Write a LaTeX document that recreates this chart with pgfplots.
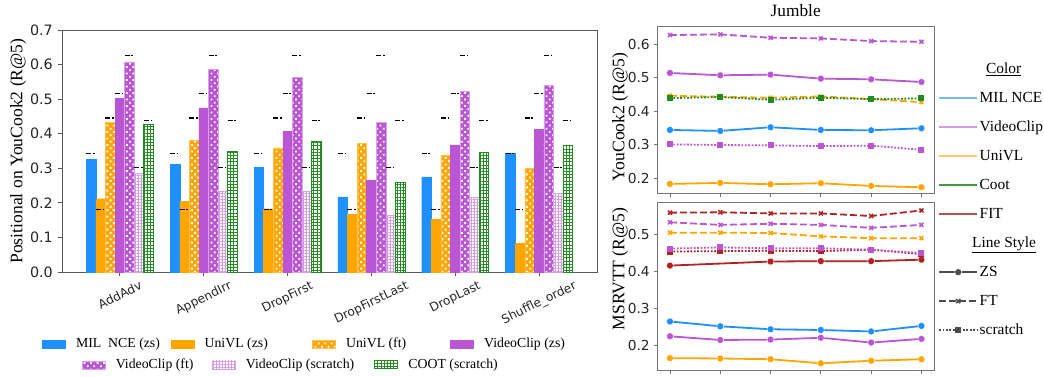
\documentclass[border=0pt]{standalone}
\usepackage{fontspec}
\setmainfont{Liberation Serif}
\newfontfamily\dejavu{DejaVu Sans}
\usepackage{graphicx}
\usepackage{pgfplots}
\pgfplotsset{compat=1.18}
\usepackage{pgfplotstable}
\usetikzlibrary{patterns.meta}

\definecolor{cblue}{RGB}{30,144,255}
\definecolor{corange}{RGB}{255,165,0}
\definecolor{cpurple}{RGB}{186,85,211}
\definecolor{cgreen}{RGB}{34,139,34}
\definecolor{cred}{RGB}{178,34,34}

\pgfdeclareplotmark{refdash}{%
  \pgfsetdash{{5pt}{1.7pt}{1.6pt}{2pt}}{0pt}%
  \pgfpathmoveto{\pgfqpoint{-4.79pt}{0pt}}%
  \pgfpathlineto{\pgfqpoint{4.79pt}{0pt}}%
  \pgfusepathqstroke}

% bars: Positional on YouCook2 (R@5)
\pgfplotstableread{
x mil unizs uft vczs vcft vcsc coot
0 0.326 0.212 0.433 0.502 0.608 0.285 0.427
1 0.311 0.205 0.380 0.475 0.586 0.234 0.350
2 0.302 0.183 0.359 0.406 0.564 0.234 0.378
3 0.217 0.166 0.372 0.265 0.432 0.164 0.260
4 0.275 0.153 0.337 0.368 0.523 0.216 0.345
5 0.344 0.083 0.301 0.412 0.540 0.228 0.367
}\bars
% reference (unperturbed) values
\pgfplotstableread{
x mil unizs uft vczs vcft vcsc coot
0 0.343 0.181 0.445 0.517 0.627 0.302 0.439
1 0.343 0.181 0.445 0.517 0.627 0.302 0.439
2 0.343 0.181 0.445 0.517 0.627 0.302 0.439
3 0.343 0.181 0.445 0.517 0.627 0.302 0.439
4 0.343 0.181 0.445 0.517 0.627 0.302 0.439
5 0.343 0.181 0.445 0.517 0.627 0.302 0.439
}\refs
% Jumble YouCook2
\pgfplotstableread{
x mil vczs vcft vcsc unizs uft coot
0 0.344 0.514 0.627 0.301 0.183 0.446 0.439
1 0.341 0.507 0.629 0.299 0.186 0.443 0.442
2 0.352 0.509 0.619 0.298 0.182 0.440 0.434
3 0.344 0.497 0.617 0.296 0.185 0.444 0.440
4 0.343 0.495 0.609 0.297 0.177 0.436 0.436
5 0.349 0.487 0.607 0.285 0.173 0.427 0.438
}\yc
% Jumble MSRVTT
\pgfplotstableread{
x fitft vcft uft vcsc fitsc fitzs mil vczs unizs
0 0.559 0.533 0.505 0.462 0.454 0.416 0.265 0.225 0.166
1 0.560 0.526 0.505 0.465 0.455 nan 0.252 0.215 0.165
2 0.557 0.529 0.504 0.463 0.456 0.427 0.244 0.216 0.163
3 0.557 0.526 0.495 0.463 0.455 0.428 0.242 0.221 0.152
4 0.550 0.518 0.490 0.459 0.459 0.428 0.238 0.208 0.159
5 0.565 0.526 0.490 0.450 0.447 0.432 0.253 0.218 0.163
}\ms

\pgfplotsset{
  barlegend/.style={legend image code/.code={\draw[##1,/tikz/.cd] (0pt,-4pt) rectangle (23pt,4pt); \path (33.7pt,0pt);}},
  bmil/.style={fill=cblue, draw=cblue},
  bunizs/.style={fill=corange, draw=corange},
  buft/.style={fill=corange, draw=corange!70, postaction={pattern={Dots[radius=1.3pt,distance=4.6pt,angle=45]}, pattern color=white}},
  bvczs/.style={fill=cpurple, draw=cpurple},
  bvcft/.style={fill=cpurple, draw=cpurple!55, postaction={pattern={Dots[radius=1.3pt,distance=4.6pt,angle=45]}, pattern color=white}},
  bvcsc/.style={fill=white, draw=cpurple!55, postaction={pattern={Hatch[distance=3pt,line width=0.5pt]}, pattern color=cpurple!60}},
  bcoot/.style={fill=white, draw=cgreen, line width=0.9pt, postaction={pattern={Hatch[distance=3.2pt,line width=0.6pt]}, pattern color=cgreen}},
  refmark/.style={only marks, mark=refdash, forget plot, black, mark options={black, line width=1.4pt}},
  zs/.style={solid, line width=1.8pt, mark=*, mark size=3.5pt, mark options={solid, draw=white, line width=0.4pt}},
  ft/.style={dash pattern=on 7pt off 3pt, line width=1.8pt, mark=x, mark size=2.8pt, mark options={solid, line width=1.6pt}},
  sc/.style={dash pattern=on 1.8pt off 1.6pt, line width=1.8pt, mark=square*, mark size=2.1pt, mark options={solid}},
  rightax/.style={
    scale only axis, width=276.6pt,
    xmin=-0.25, xmax=5.25, xtick={0,1,2,3,4,5}, xticklabels={},
    tick align=outside, major tick length=3.5pt, xtick pos=bottom, ytick pos=left,
    axis line style={black!55, line width=0.8pt}, tick style={black!55, line width=0.8pt},
    tick label style={font=\dejavu\fontsize{13.8}{16}\selectfont, black!85},
    /pgf/number format/assume math mode=true,
    yticklabel style={/pgf/number format/fixed, /pgf/number format/fixed zerofill, /pgf/number format/precision=1, inner sep=0pt, anchor=east, xshift=-4pt},
    ylabel style={font=\fontsize{17.6}{20}\selectfont, anchor=center},
  },
}

\begin{document}
\begin{tikzpicture}
\path[use as bounding box] (0pt,0pt) rectangle (1044pt,376pt);

% ---------------- left bar chart ----------------
\begin{axis}[
  at={(62pt,104pt)}, anchor=south west, scale only axis, width=535pt, height=242pt,
  xmin=-0.69, xmax=5.69, ymin=0, ymax=0.7,
  xtick={0,1,2,3,4,5},
  xticklabels={\rotatebox{26}{AddAdv},\rotatebox{26}{AppendIrr},\rotatebox{26}{DropFirst},\rotatebox{26}{DropFirstLast},\rotatebox{26}{DropLast},\rotatebox{26}{Shuffle\_order}},
  ytick={0,0.1,0.2,0.3,0.4,0.5,0.6,0.7},
  tick align=outside, major tick length=4pt, xtick pos=bottom, ytick pos=left,
  axis line style={black!65, line width=0.8pt}, tick style={black!65, line width=0.8pt},
  tick label style={font=\dejavu\fontsize{14.3}{16}\selectfont, black!85},
  /pgf/number format/assume math mode=true,
  yticklabel style={/pgf/number format/fixed, /pgf/number format/fixed zerofill, /pgf/number format/precision=1, inner sep=0pt, anchor=east, xshift=-5pt},
  xticklabel style={inner sep=0pt, anchor=north, yshift=-4pt, font=\dejavu\fontsize{12.2}{14}\selectfont},
  ylabel={Positional on YouCook2 (R@5)},
  ylabel style={at={(axis description cs:-0.0822,0.5)}, anchor=center, font=\fontsize{17.6}{20}\selectfont},
  legend style={at={(axis description cs:-0.0379,-0.2975)}, anchor=west, draw=none, fill=none,
     inner sep=0pt, column sep=0pt, font=\fontsize{13.8}{16}\selectfont,
     nodes={inner xsep=0pt, inner ysep=0pt, text height=9.5pt, text depth=3pt}},
  legend columns=4, legend cell align=left,
]
\addplot[ybar, bar width=0.114286, bar shift=-0.342857, bmil, barlegend] table[x=x,y=mil] {\bars};
\addlegendentry{\makebox[94.5pt][l]{MIL~~NCE (zs)}}
\addplot[ybar, bar width=0.114286, bar shift=-0.228571, bunizs, barlegend] table[x=x,y=unizs] {\bars};
\addlegendentry{\makebox[107.4pt][l]{UniVL (zs)}}
\addplot[ybar, bar width=0.114286, bar shift=-0.114286, buft, barlegend] table[x=x,y=uft] {\bars};
\addlegendentry{\makebox[104pt][l]{UniVL (ft)}}
\addplot[ybar, bar width=0.114286, bar shift=0, bvczs, barlegend] table[x=x,y=vczs] {\bars};
\addlegendentry{VideoClip (zs)}
\addplot[ybar, bar width=0.114286, bar shift=0.114286, bvcft, forget plot] table[x=x,y=vcft] {\bars};
\addplot[ybar, bar width=0.114286, bar shift=0.228571, bvcsc, forget plot] table[x=x,y=vcsc] {\bars};
\addplot[ybar, bar width=0.114286, bar shift=0.342857, bcoot, forget plot] table[x=x,y=coot] {\bars};
% reference dashes
\addplot[refmark] table[x expr=\thisrow{x}-0.342857, y=mil] {\refs};
\addplot[refmark] table[x expr=\thisrow{x}-0.228571, y=unizs] {\refs};
\addplot[refmark] table[x expr=\thisrow{x}-0.114286, y=uft] {\refs};
\addplot[refmark] table[x expr=\thisrow{x}, y=vczs] {\refs};
\addplot[refmark] table[x expr=\thisrow{x}+0.114286, y=vcft] {\refs};
\addplot[refmark] table[x expr=\thisrow{x}+0.228571, y=vcsc] {\refs};
\addplot[refmark] table[x expr=\thisrow{x}+0.342857, y=coot] {\refs};
\end{axis}

% second legend row
\begin{axis}[
  at={(62pt,104pt)}, anchor=south west, scale only axis, width=535pt, height=242pt,
  hide axis, xmin=0, xmax=1, ymin=0, ymax=1,
  legend style={at={(axis description cs:0.0364,-0.384)}, anchor=west, draw=none, fill=none,
     inner sep=0pt, column sep=0pt, font=\fontsize{13.8}{16}\selectfont,
     nodes={inner xsep=0pt, inner ysep=0pt, text height=9.5pt, text depth=3pt}},
  legend columns=3, legend cell align=left, barlegend,
]
\addplot[draw=none, forget plot] coordinates {(0.5,0.5)};
\addlegendimage{bvcft, barlegend}
\addlegendentry{\makebox[96pt][l]{VideoClip (ft)}}
\addlegendimage{bvcsc, barlegend}
\addlegendentry{\makebox[128pt][l]{VideoClip (scratch)}}
\addlegendimage{bcoot, barlegend}
\addlegendentry{COOT (scratch)}
\end{axis}

% ---------------- right top: YouCook2 ----------------
\begin{axis}[
  rightax, at={(657.4pt,182.7pt)}, anchor=south west, height=167.3pt,
  ymin=0.155, ymax=0.654, ytick={0.2,0.3,0.4,0.5,0.6},
  ylabel={YouCook2 (R@5)},
  ylabel style={at={(axis description cs:-0.135,0.456)}},
  title={Jumble},
  title style={at={(axis description cs:0.5,1)}, anchor=base, yshift=4pt, font=\fontsize{17.3}{20}\selectfont},
  legend image code/.code={\draw[mark repeat=2,mark phase=2,#1] plot coordinates {(0pt,0pt) (19pt,0pt) (38pt,0pt)};},
  legend style={at={(axis description cs:1.0145,0.785)}, anchor=north west, draw=none, fill=none,
     inner sep=0pt, row sep=15pt, font=\fontsize{15.4}{17}\selectfont,
     nodes={inner xsep=1.5pt, inner ysep=0pt, text height=11pt, text depth=3pt}},
  legend cell align=left,
]
\addplot[cpurple, sc, forget plot] table[x=x,y=vcsc] {\yc};
\addplot[corange, zs, forget plot] table[x=x,y=unizs] {\yc};
\addplot[cblue, zs, forget plot] table[x=x,y=mil] {\yc};
\addplot[corange, ft, forget plot] table[x=x,y=uft] {\yc};
\addplot[cgreen, sc, forget plot] table[x=x,y=coot] {\yc};
\addplot[cpurple, zs, forget plot] table[x=x,y=vczs] {\yc};
\addplot[cpurple, ft, forget plot] table[x=x,y=vcft] {\yc};
\addlegendimage{empty legend}
\addlegendentry{\hspace*{6.5pt}\underline{Color}}
\addlegendimage{cblue!60, line width=2pt}
\addlegendentry{MIL\hspace{3.5pt}NCE}
\addlegendimage{cpurple!60, line width=2pt}
\addlegendentry{VideoClip}
\addlegendimage{corange!60, line width=2pt}
\addlegendentry{UniVL}
\addlegendimage{cgreen!85, line width=2pt}
\addlegendentry{Coot}
\addlegendimage{cred!80, line width=2pt}
\addlegendentry{FIT}
\addlegendimage{empty legend}
\addlegendentry{\hspace*{-7.5pt}\underline{Line Style}}
\addlegendimage{black!70, zs}
\addlegendentry{ZS}
\addlegendimage{black!70, ft}
\addlegendentry{FT}
\addlegendimage{black!70, sc}
\addlegendentry{scratch}
\end{axis}

% ---------------- right bottom: MSRVTT ----------------
\begin{axis}[
  rightax, at={(657.4pt,5.3pt)}, anchor=south west, height=168.4pt,
  ymin=0.132, ymax=0.587, ytick={0.2,0.3,0.4,0.5},
  ylabel={MSRVTT (R@5)},
  ylabel style={at={(axis description cs:-0.135,0.604)}},
]
\addplot[corange, zs] table[x=x,y=unizs] {\ms};
\addplot[cpurple, zs] table[x=x,y=vczs] {\ms};
\addplot[cblue, zs] table[x=x,y=mil] {\ms};
\addplot[cred, zs] table[x=x,y=fitzs] {\ms};
\addplot[cred, sc] table[x=x,y=fitsc] {\ms};
\addplot[cpurple, sc] table[x=x,y=vcsc] {\ms};
\addplot[corange, ft] table[x=x,y=uft] {\ms};
\addplot[cpurple, ft] table[x=x,y=vcft] {\ms};
\addplot[cred, ft] table[x=x,y=fitft] {\ms};
\end{axis}
\end{tikzpicture}
\end{document}
